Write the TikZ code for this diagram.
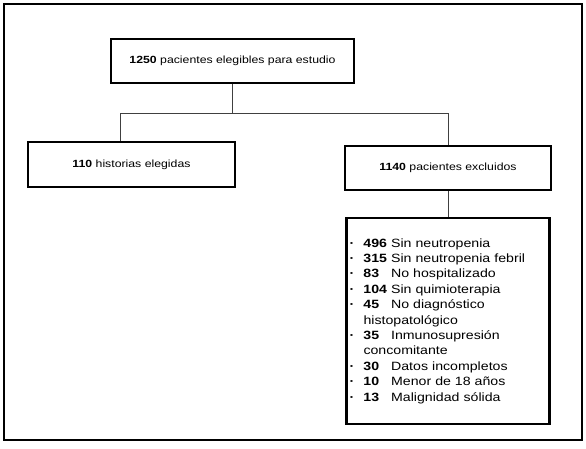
\documentclass[tikz,border=0pt]{standalone}
\usepackage{fontspec}
\setmainfont[FakeStretch=1.18]{Liberation Sans}
\newcommand{\nb}[1]{\rlap{\textbf{#1}}\phantom{\textbf{496}\ }}
\newcommand{\bu}{\makebox[14pt][l]{\textbf{·}}}
\begin{document}
\begin{tikzpicture}[x=1pt,y=-1pt,
  box/.style={draw=black, line width=2.7pt, fill=white, inner sep=0pt,
    font={\fontsize{10.4}{12}\selectfont}},
  conn/.style={draw=black!75, line width=0.8pt}]
\useasboundingbox (0,0) rectangle (586,448);
\draw[line width=2.8pt] (4,4) rectangle (582,440);
\node[box, minimum width=243, minimum height=44] (top) at (232.5,61) {\textbf{1250} pacientes elegibles para estudio};
\node[box, minimum width=207, minimum height=45] (left) at (131.5,164.5) {\textbf{110} historias elegidas};
\node[box, minimum width=206, minimum height=44] (right) at (448,168) {\textbf{1140} pacientes excluidos};
\node[box, minimum width=202, minimum height=206, text width=197, inner xsep=3pt, align=left,
  font={\fontsize{12}{15.4}\selectfont}] (list) at (448,321) {%
\bu\nb{496}Sin neutropenia\\
\bu\nb{315}Sin neutropenia febril\\
\bu\nb{83}No hospitalizado\\
\bu\nb{104}Sin quimioterapia\\
\bu\nb{45}No diagnóstico\\
\hspace*{14pt}histopatológico\\
\bu\nb{35}Inmunosupresión\\
\hspace*{14pt}concomitante\\
\bu\nb{30}Datos incompletos\\
\bu\nb{10}Menor de 18 años\\
\bu\nb{13}Malignidad sólida};
\coordinate (hl) at (120,113);
\coordinate (hr) at (448,113);
\draw[conn] (top.south) -- (top.south |- hl);
\draw[conn] (hl |- left.north) -- (hl) -- (hr) -- (right.north);
\draw[conn] (right.south) -- (list.north);
\end{tikzpicture}
\end{document}
